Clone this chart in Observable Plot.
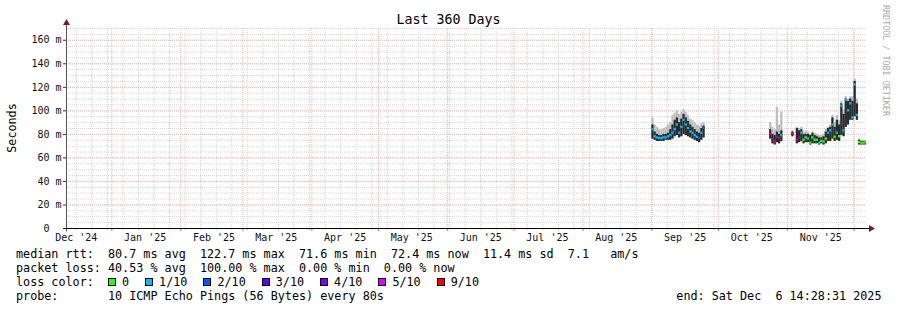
<!DOCTYPE html>
<html><head><meta charset="utf-8">
<script src="https://cdn.jsdelivr.net/npm/d3@7"></script>
<script src="https://cdn.jsdelivr.net/npm/@observablehq/plot@0.6"></script>
<style>
html,body{margin:0;padding:0;background:#fff;}
svg text{white-space:pre;}
</style></head><body><div id="chart"></div>
<script>
// ---- data ----
const endTime = "2025-12-06T14:28:31Z";
const spanDays = 360;
const titleText = "Last 360 Days";
const yLabel = "Seconds";

const dates = [
  "2025-09-01","2025-09-02","2025-09-03","2025-09-04","2025-09-05","2025-09-06","2025-09-07","2025-09-08",
  "2025-09-09","2025-09-10","2025-09-11","2025-09-12","2025-09-13","2025-09-14","2025-09-15","2025-09-16",
  "2025-09-17","2025-09-18","2025-09-19","2025-09-20","2025-09-21","2025-09-22","2025-09-23","2025-09-24",
  "2025-10-24","2025-10-25","2025-10-26","2025-10-27","2025-10-28","2025-10-29",
  "2025-11-03",
  "2025-11-05","2025-11-06","2025-11-07","2025-11-08","2025-11-09","2025-11-10","2025-11-11","2025-11-12",
  "2025-11-13","2025-11-14","2025-11-15","2025-11-16","2025-11-17","2025-11-18","2025-11-19","2025-11-20",
  "2025-11-21","2025-11-22","2025-11-23","2025-11-24","2025-11-25","2025-11-26","2025-11-27","2025-11-28",
  "2025-11-29","2025-11-30",
  "2025-12-01","2025-12-02","2025-12-03","2025-12-04","2025-12-05","2025-12-06"
];
// median rtt (ms)
const median = [
  84,78,77,76.5,76.5,77,77,78,79,81,84,88,81,86,92,88,85,82,81,79,77.5,76.5,81,85,
  80,76,73.5,77.7,76.6,79,
  80,
  75,77,81,75,77,76,72.5,77,75,75,72.5,74,73.5,76,81,83,88,77.5,81,78,104,83,109,100,106,94,
  122,96,73,72.5,72.5,73
];
// lost pings out of 10
const loss = [
  1,1,1,1,1,1,1,1,1,1,1,1,1,1,1,1,1,1,1,1,1,2,1,2,
  9,4,9,2,9,1,
  9,
  9,4,1,0,0,1,0,0,0,0,1,0,0,0,1,1,1,0,1,0,1,1,1,1,1,1,
  1,1,0,0,0,0
];
// smoke: lowest ping, highest ping, top of dense smoke (ms)
const smokeLo = [
  76,75,74,74,74,74,75,75,75,76,78,79,77,78,80,79,78,77,76,75,74,73,75,77,
  76,72,71,73,72,74,
  78,
  72,73,74,72,73,73,71,72,72,72,71,72,71,72,74,74,76,74,75,74,79,78,86,88,92,92,
  95,92,71,71,71,71
];
const smokeHi = [
  94,88,86,84,84,85,86,88,90,96,98,100,97,99,101,99,96,93,92,90,88,87,89,90,
  90,86,84,103,88,99,
  83,
  86,85,86,82,83,82,80,82,81,80,79,79,80,84,86,88,96,90,96,92,108,101,112,110,112,112,
  127,110,76,75,75,75
];
const smokeDense = [
  88,82,80,79,79,80,80,81,84,88,92,94,90,93,97,94,91,88,86,84,82,81,85,87,
  84,80,79,82,80,83,
  82,
  85,83,84,80,80,80,79,81,79,78,77,77,78,82,85,86,94,86,92,88,106,97,110,108,110,108,
  125,106,75,74,74,74
];

const lossKeys = [0,1,2,3,4,5,9];
const lossLabels = ["0","1/10","2/10","3/10","4/10","5/10","9/10"];
const lossColors = ["#26ff00","#00b8ff","#0059ff","#5e00ff","#7e00ff","#dd00ff","#ff0000"];

const legendRtt = "median rtt:  80.7 ms avg  122.7 ms max  71.6 ms min  72.4 ms now  11.4 ms sd  7.1   am/s";
const legendLoss = "packet loss: 40.53 % avg  100.00 % max  0.00 % min  0.00 % now";
const legendLossColor = "loss color:";
const legendProbe = "probe:       10 ICMP Echo Pings (56 Bytes) every 80s";
const legendEnd = "end: Sat Dec  6 14:28:31 2025";
const watermark = "RRDTOOL / TOBI OETIKER";

// ---- build ----
const end = new Date(endTime);
const start = d3.utcDay.offset(end, -spanDays);
const rows = dates.map((d, i) => ({
  date: new Date(d + "T00:00:00Z"), med: median[i], loss: loss[i],
  lo: smokeLo[i], hi: smokeHi[i], dense: smokeDense[i]
}));
const nextDay = d => d3.utcDay.offset(d.date, 1);
const lossColor = new Map(lossKeys.map((k, i) => [k, lossColors[i]]));

const minorY = d3.range(0, 171, 5);
const majorY = d3.range(0, 161, 20);
const weeks = d3.utcMonday.range(start, end);
const months = d3.utcMonth.range(start, end);
const monthMids = d3.utcMonth.range(d3.utcMonth.floor(start), end)
  .map(m => d3.utcDay.offset(m, 15)).filter(d => d >= start && d <= end);

const mono = "'DejaVu Sans Mono', monospace";
const gridGray = "#d6d6d6", gridRed = "#f7b4b4";

const plot = Plot.plot({
  width: 897, height: 310,
  marginLeft: 66, marginRight: 31, marginTop: 28, marginBottom: 82,
  style: {fontFamily: mono, fontSize: "10px", background: "#fff", color: "#000", overflow: "visible"},
  x: {type: "utc", domain: [start, end], axis: null},
  y: {domain: [0, 170], axis: null},
  marks: [
    Plot.ruleY(minorY, {stroke: gridGray, strokeDasharray: "1,1"}),
    Plot.ruleX(weeks, {stroke: gridGray, strokeDasharray: "1,1"}),
    Plot.ruleY(majorY, {stroke: gridRed, strokeDasharray: "1,1"}),
    Plot.ruleX(months, {stroke: gridRed, strokeDasharray: "1,1"}),
    Plot.rect(rows, {x1: "date", x2: nextDay, y1: "lo", y2: "hi", fill: "#bdbdbd", clip: true}),
    Plot.rect(rows, {x1: "date", x2: nextDay, y1: "lo", y2: "dense", fill: "#2a2a2a", clip: true}),
    Plot.rect(rows, {x1: "date", x2: nextDay, y1: d => d.med - 1, y2: d => d.med + 1,
      fill: d => lossColor.get(d.loss), clip: true}),
    Plot.axisY(majorY, {tickSize: 3, tickPadding: 2, stroke: "#333", fill: "#111",
      tickFormat: v => v === 0 ? "0  " : `${v} m`}),
    Plot.axisX(monthMids, {tickSize: 0, tickPadding: 5, fill: "#111", tickFormat: d3.utcFormat("%b '%y")}),
    Plot.axisX(weeks, {tickSize: 2, stroke: "#bbb", tickFormat: () => ""}),
    Plot.axisX(months, {tickSize: 3, stroke: "#e46a6a", tickFormat: () => ""})
  ]
});

const svg = d3.select(plot);
const xs = plot.scale("x"), ys = plot.scale("y");
const [x0, x1] = xs.range, [yb, yt] = ys.range;
const axX = Math.round(x0) + 0.5, axY = Math.round(yb) + 0.5;
const arrowCol = "#7a1c1c";
// axes lines
svg.append("line").attr("x1", axX).attr("x2", axX).attr("y1", axY + 3).attr("y2", yt - 6)
  .attr("stroke", "#555");
svg.append("line").attr("x1", axX - 3).attr("x2", x1 + 5).attr("y1", axY).attr("y2", axY)
  .attr("stroke", "#000");
svg.append("path").attr("d", `M${axX - 3.5},${yt - 3}L${axX + 3.5},${yt - 3}L${axX},${yt - 9}Z`).attr("fill", arrowCol);
svg.append("path").attr("d", `M${x1 + 3},${axY - 3.5}L${x1 + 3},${axY + 3.5}L${x1 + 9},${axY}Z`).attr("fill", arrowCol);

// title, y label, watermark
svg.append("text").attr("x", 448.5).attr("y", 24).attr("text-anchor", "middle")
  .attr("font-family", mono).attr("font-size", "13.3px").attr("fill", "#000").text(titleText);
svg.append("text").attr("transform", `translate(15.5,${(yb + yt) / 2}) rotate(-90)`).attr("text-anchor", "middle")
  .attr("font-family", mono).attr("font-size", "11.75px").attr("fill", "#000").text(yLabel);
svg.append("text").attr("transform", `translate(883,5) rotate(90)`).attr("text-anchor", "start")
  .attr("font-family", mono).attr("font-size", "8.4px").attr("fill", "#aaaaaa").text(watermark);

// legend
const cw = 7.08, lx = 16, fs = "11.75px";
const lg = svg.append("g").attr("font-family", mono).attr("font-size", fs).attr("fill", "#000")
  .attr("text-anchor", "start");
lg.append("text").attr("x", lx).attr("y", 258).text(legendRtt);
lg.append("text").attr("x", lx).attr("y", 272).text(legendLoss);
lg.append("text").attr("x", lx).attr("y", 286).text(legendLossColor);
lg.append("text").attr("x", lx).attr("y", 300).text(legendProbe);
lg.append("text").attr("x", 881.5).attr("y", 300).attr("text-anchor", "end").text(legendEnd);
let bx = lx + 13 * cw;
lossLabels.forEach((lab, i) => {
  lg.append("rect").attr("x", Math.round(bx) + 0.5).attr("y", 278.5).attr("width", 7).attr("height", 7)
    .attr("fill", lossColors[i]).attr("stroke", "#000");
  lg.append("text").attr("x", bx + 14).attr("y", 286).text(lab);
  bx = bx + 14 + lab.length * cw + 16;
});

document.getElementById("chart").appendChild(plot);
</script>
</body></html>
